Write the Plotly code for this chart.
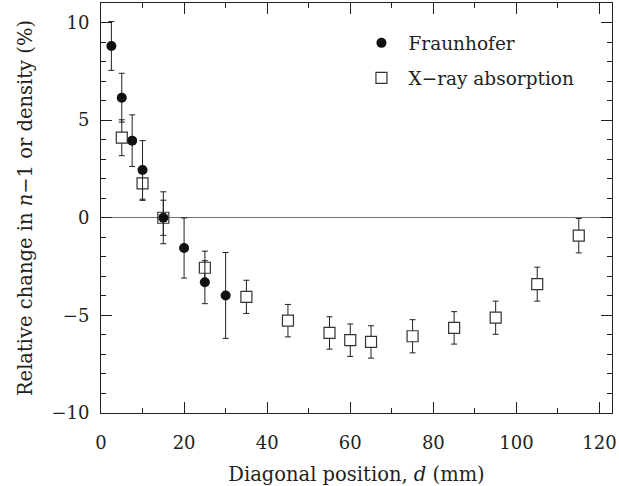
import plotly.graph_objects as go

# Fraunhofer data (filled circles)
fr_x = [2.5, 5, 7.5, 10, 15, 20, 25, 30]
fr_y = [8.8, 6.15, 3.95, 2.45, 0.0, -1.55, -3.3, -3.98]
fr_err = [1.25, 1.25, 1.32, 1.5, 1.33, 1.54, 1.1, 2.2]

# X-ray absorption data (open squares)
xr_x = [5, 10, 15, 25, 35, 45, 55, 60, 65, 75, 85, 95, 105, 115]
xr_y = [4.1, 1.76, 0.0, -2.56, -4.05, -5.27, -5.9, -6.27, -6.36, -6.07, -5.64, -5.12, -3.4, -0.92]
xr_err = [0.92, 0.87, 0.9, 0.85, 0.85, 0.83, 0.83, 0.83, 0.83, 0.85, 0.83, 0.85, 0.87, 0.88]

x_ticks = [0, 20, 40, 60, 80, 100, 120]
y_ticks = [-10, -5, 0, 5, 10]

FONT = "DejaVu Serif"
TXT = "#231f20"
TICK_SIZE = 18
TITLE_SIZE = 19.5
LEG_SIZE = 18.5

fig = go.Figure()
fig.add_trace(go.Scatter(
    x=xr_x, y=xr_y, mode="markers", name="X\u2212ray absorption",
    legendrank=2, legendgroup="b",
    marker=dict(symbol="square", size=11, color="white",
                line=dict(color="#333333", width=1.2)),
    error_y=dict(type="data", array=xr_err, visible=True,
                 color="#231f20", thickness=1, width=3),
))
fig.add_trace(go.Scatter(
    x=fr_x, y=fr_y, mode="markers", name="Fraunhofer",
    legendrank=1, legendgroup="a",
    marker=dict(symbol="circle", size=10, color="#111111",
                line=dict(width=0)),
    error_y=dict(type="data", array=fr_err, visible=True,
                 color="#231f20", thickness=1, width=3),
))

fig.update_layout(
    width=619, height=486,
    margin=dict(l=101, r=7, t=3, b=73),
    paper_bgcolor="white", plot_bgcolor="white",
    font=dict(family=FONT, size=TICK_SIZE, color=TXT),
    showlegend=True,
    legend=dict(x=0.496, y=0.948, xanchor="left", yanchor="top",
                bgcolor="rgba(0,0,0,0)", font=dict(size=LEG_SIZE, family=FONT, color=TXT),
                itemwidth=44, tracegroupgap=8, traceorder="grouped"),
)
fig.update_xaxes(
    range=[0, 123], tickvals=x_ticks, ticktext=[str(v) for v in x_ticks],
    automargin=False,
    ticks="inside", ticklen=11, tickwidth=1, tickcolor="#231f20",
    showline=True, linecolor="#231f20", linewidth=1, mirror="ticks",
    showgrid=False, zeroline=False, ticklabeloverflow="allow",
    ticklabelstandoff=13,
    minor=dict(ticks="inside", ticklen=5, dtick=10, tick0=0, tickcolor="#231f20", showgrid=False),
    title=dict(text="Diagonal position, <i>d</i> (mm)", standoff=16,
               font=dict(size=TITLE_SIZE, family=FONT, color=TXT)),
    tickfont=dict(size=TICK_SIZE, family=FONT, color=TXT),
)
fig.update_yaxes(
    range=[-10, 11], tickvals=y_ticks, ticktext=["\u221210", "\u22125", "0", "5", "10"],
    automargin=False,
    ticks="inside", ticklen=11, tickwidth=1, tickcolor="#231f20",
    showline=True, linecolor="#231f20", linewidth=1, mirror="ticks",
    showgrid=False, zeroline=True, zerolinecolor="#707070", zerolinewidth=1,
    minor=dict(ticks="inside", ticklen=5, dtick=1, tick0=0, tickcolor="#231f20", showgrid=False),
    ticklabelstandoff=7,
    title=dict(text="Relative change in <i>n</i>\u22121 or density (%)", standoff=13,
               font=dict(size=TITLE_SIZE, family=FONT, color=TXT)),
    tickfont=dict(size=TICK_SIZE, family=FONT, color=TXT),
)

fig.write_html("out.html", config={"displayModeBar": False},
               post_script="document.body.style.margin='0';")
